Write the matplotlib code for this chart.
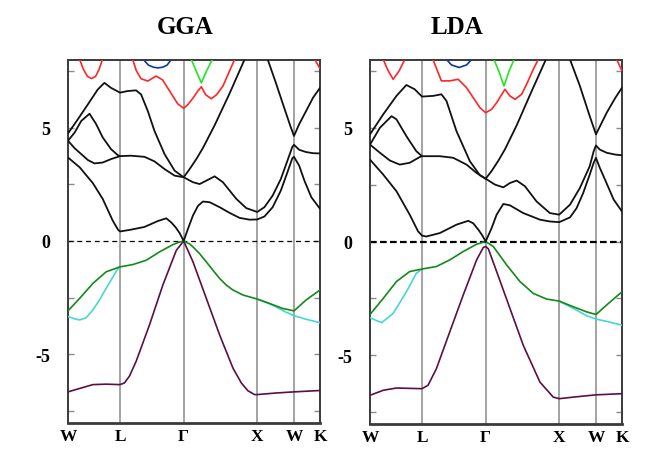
import matplotlib
matplotlib.use('Agg')
import matplotlib.pyplot as plt

# ---------------- high-symmetry path ----------------
K_TICKS = [0.0, 0.707, 1.573, 2.573, 3.073, 3.427]
K_LABELS = ['W', 'L', 'Γ', 'X', 'W', 'K']
Y_MAJOR = [-5, 0, 5]
Y_LABELS = ['-5', '0', '5']
Y_MINOR = [-7.5, -2.5, 2.5, 7.5]
TITLES = ['GGA', 'LDA']

# ---------------- GGA bands ----------------
gga_b1_k = [0, 0.158, 0.338, 0.473, 0.608, 0.68, 0.707, 0.857, 1.04, 1.222, 1.336, 1.404, 1.464, 1.518, 1.573,
            1.632, 1.70, 1.768, 1.835, 1.926, 2.062, 2.197, 2.333, 2.469, 2.573, 2.671, 2.783, 2.894, 2.984, 3.051,
            3.073, 3.144, 3.215, 3.309, 3.427]
gga_b1_e = [3.68, 3.25, 2.55, 1.85, 0.9, 0.5, 0.42, 0.5, 0.62, 0.88, 1.0, 0.82, 0.6, 0.35, 0.0,
            0.54, 1.13, 1.55, 1.74, 1.71, 1.49, 1.24, 1.02, 0.94, 0.95, 1.08, 1.49, 2.22, 3.03, 3.65,
            3.71, 3.32, 2.66, 1.93, 1.42]
gga_b2_k = [0, 0.09, 0.18, 0.27, 0.36, 0.473, 0.585, 0.707, 0.857, 1.04, 1.176, 1.313, 1.45, 1.573, 1.70, 1.79,
            1.881, 1.994, 2.107, 2.288, 2.424, 2.573, 2.671, 2.783, 2.894, 2.984, 3.051, 3.073, 3.144, 3.238,
            3.333, 3.427]
gga_b2_e = [4.42, 4.09, 3.83, 3.57, 3.42, 3.46, 3.61, 3.74, 3.76, 3.71, 3.51, 3.17, 2.88, 2.81, 2.59, 2.51,
            2.66, 2.85, 2.59, 1.86, 1.45, 1.28, 1.49, 2.0, 2.73, 3.54, 4.15, 4.24, 4.02, 3.92,
            3.87, 3.86]
gga_b3_k = [0, 0.09, 0.18, 0.293, 0.383, 0.473, 0.585, 0.675, 0.707]
gga_b3_e = [4.42, 4.78, 5.29, 5.61, 5.15, 4.56, 4.05, 3.79, 3.74]
gga_b4_k = [0, 0.135, 0.27, 0.405, 0.495, 0.585, 0.707, 0.812, 0.926, 0.994, 1.085, 1.176, 1.313, 1.45, 1.573,
            1.654, 1.745, 1.835, 1.994, 2.197, 2.401]
gga_b4_e = [4.74, 5.37, 6.02, 6.68, 6.97, 6.75, 6.54, 6.61, 6.64, 6.46, 5.73, 4.85, 3.83, 3.1, 2.81,
            3.17, 3.61, 4.1, 5.1, 6.5, 8.0]
gga_b5_k = [2.716, 2.827, 2.939, 3.028, 3.073, 3.144, 3.238, 3.333, 3.427]
gga_b5_e = [8.0, 6.97, 5.88, 5.03, 4.63, 5.15, 5.73, 6.32, 6.75]
gga_red1_k = [0.158, 0.212, 0.266, 0.32, 0.374, 0.421, 0.468]
gga_red1_e = [8.0, 7.55, 7.25, 7.16, 7.25, 7.55, 8.0]
gga_red2_k = [0.880, 0.930, 0.994, 1.085, 1.199, 1.286, 1.404, 1.491, 1.573, 1.627, 1.70, 1.763, 1.813, 1.872,
              1.949, 2.021, 2.107, 2.184, 2.265]
gga_red2_e = [8.0, 7.5, 7.15, 7.05, 7.27, 7.1, 6.5, 6.05, 5.85, 6.0, 6.3, 6.6, 6.8, 6.45,
              6.27, 6.45, 6.83, 7.4, 8.0]
gga_red3_k = [3.356, 3.427]
gga_red3_e = [8.0, 7.6]
gga_lime_k = [1.677, 1.743, 1.813, 1.885, 1.962]
gga_lime_e = [8.0, 7.5, 6.97, 7.5, 8.0]
gga_blue_k = [1.026, 1.094, 1.163, 1.222, 1.286, 1.347, 1.404]
gga_blue_e = [8.0, 7.75, 7.66, 7.63, 7.66, 7.75, 8.0]
gga_vg_k = [0, 0.158, 0.338, 0.518, 0.707, 0.88, 1.063, 1.245, 1.427, 1.495, 1.573, 1.654, 1.70, 1.79, 1.881,
            1.971, 2.062, 2.152, 2.243, 2.379, 2.573, 2.738, 2.917, 3.073, 3.238, 3.427]
gga_vg_e = [-3.08, -2.53, -1.87, -1.36, -1.14, -1.04, -0.85, -0.48, -0.16, -0.07, 0.0, -0.13, -0.26, -0.56, -0.92,
            -1.29, -1.65, -1.94, -2.16, -2.38, -2.56, -2.75, -2.97, -3.08, -2.6, -2.16]
gga_vc1_k = [0, 0.09, 0.158, 0.248, 0.338, 0.428, 0.518, 0.608, 0.662, 0.707]
gga_vc1_e = [-3.33, -3.43, -3.48, -3.38, -3.04, -2.6, -2.09, -1.6, -1.3, -1.14]
gga_vc2_k = [2.573, 2.694, 2.827, 2.961, 3.073, 3.238, 3.427]
gga_vc2_e = [-2.56, -2.7, -2.9, -3.13, -3.29, -3.45, -3.6]
gga_vp_k = [0, 0.158, 0.338, 0.518, 0.707, 0.766, 0.835, 0.926, 1.108, 1.29, 1.473, 1.573, 1.70, 1.881, 2.062,
            2.243, 2.356, 2.446, 2.537, 2.573, 2.827, 3.073, 3.427]
gga_vp_e = [-6.65, -6.5, -6.33, -6.31, -6.33, -6.26, -5.96, -5.31, -3.7, -1.94, -0.41, 0.0, -0.92, -2.53, -4.14,
            -5.6, -6.25, -6.6, -6.77, -6.77, -6.7, -6.65, -6.59]

# ---------------- LDA bands ----------------
lda_b1_k = [0, 0.18, 0.36, 0.54, 0.653, 0.707, 0.766, 0.949, 1.176, 1.336, 1.404, 1.473, 1.527, 1.573,
            1.654, 1.722, 1.813, 1.903, 2.084, 2.311, 2.446, 2.573, 2.72, 2.81, 2.899, 2.988, 3.042, 3.073,
            3.125, 3.196, 3.314, 3.427]
lda_b1_e = [3.6, 2.94, 2.21, 1.18, 0.45, 0.26, 0.22, 0.37, 0.74, 0.91, 0.8, 0.52, 0.27, 0.0,
            0.59, 1.18, 1.65, 1.59, 1.25, 0.96, 0.88, 0.85, 1.06, 1.47, 2.13, 2.94, 3.46, 3.68,
            3.24, 2.72, 1.84, 1.32]
lda_b2_k = [0, 0.135, 0.27, 0.405, 0.54, 0.675, 0.707, 0.949, 1.131, 1.313, 1.45, 1.573, 1.70, 1.813, 1.903,
            1.994, 2.107, 2.265, 2.446, 2.573, 2.72, 2.854, 2.988, 3.042, 3.073, 3.125, 3.219, 3.337, 3.427]
lda_b2_e = [4.26, 3.9, 3.56, 3.38, 3.46, 3.71, 3.75, 3.75, 3.68, 3.38, 3.01, 2.76, 2.5, 2.38, 2.57,
            2.68, 2.43, 1.76, 1.25, 1.18, 1.62, 2.35, 3.31, 3.97, 4.22, 4.04, 3.9, 3.82, 3.79]
lda_b3_k = [0, 0.135, 0.293, 0.36, 0.495, 0.63, 0.707]
lda_b3_e = [4.26, 5.0, 5.51, 5.37, 4.63, 3.97, 3.75]
lda_b4_k = [0, 0.18, 0.36, 0.495, 0.608, 0.707, 0.857, 0.971, 1.04, 1.176, 1.358, 1.495, 1.573, 1.654, 1.745,
            1.835, 1.994, 2.197, 2.392]
lda_b4_e = [4.71, 5.59, 6.4, 6.88, 6.69, 6.37, 6.4, 6.47, 6.18, 4.85, 3.53, 2.91, 2.76, 3.1, 3.55,
            4.05, 5.1, 6.6, 8.0]
lda_b5_k = [2.72, 2.854, 2.988, 3.073, 3.219, 3.337, 3.427]
lda_b5_e = [8.0, 6.84, 5.51, 4.71, 5.66, 6.32, 6.76]
lda_red1_k = [0.18, 0.248, 0.315, 0.396, 0.473]
lda_red1_e = [8.0, 7.5, 7.13, 7.5, 8.0]
lda_red2_k = [0.857, 0.917, 0.971, 1.085, 1.2, 1.313, 1.404, 1.496, 1.573, 1.654, 1.722, 1.835, 1.903, 1.971,
              2.062, 2.13, 2.221, 2.288]
lda_red2_e = [8.0, 7.5, 7.06, 7.06, 7.13, 6.76, 6.32, 5.88, 5.66, 5.81, 6.1, 6.69, 6.4, 6.25,
              6.47, 6.91, 7.57, 8.0]
lda_red3_k = [3.356, 3.427]
lda_red3_e = [8.0, 7.5]
lda_lime_k = [1.686, 1.754, 1.822, 1.89, 1.958]
lda_lime_e = [8.0, 7.47, 6.84, 7.47, 8.0]
lda_blue_k = [1.04, 1.108, 1.213, 1.313, 1.382]
lda_blue_e = [8.0, 7.76, 7.65, 7.76, 8.0]
lda_vg_k = [0, 0.18, 0.36, 0.54, 0.707, 0.903, 1.085, 1.268, 1.45, 1.573, 1.677, 1.858, 2.039, 2.22, 2.401,
            2.573, 2.765, 2.944, 3.073, 3.243, 3.427]
lda_vg_e = [-3.21, -2.5, -1.76, -1.32, -1.21, -1.1, -0.81, -0.44, -0.12, 0.0, -0.22, -1.03, -1.76, -2.28, -2.53,
            -2.62, -2.87, -3.09, -3.21, -2.72, -2.21]
lda_vc1_k = [0, 0.158, 0.315, 0.495, 0.63, 0.707]
lda_vc1_e = [-3.35, -3.57, -3.16, -2.21, -1.4, -1.21]
lda_vc2_k = [2.573, 2.765, 2.944, 3.073, 3.243, 3.427]
lda_vc2_e = [-2.62, -2.94, -3.26, -3.41, -3.53, -3.68]
lda_vp_k = [0, 0.18, 0.36, 0.707, 0.789, 0.903, 1.085, 1.268, 1.45, 1.541, 1.573, 1.609, 1.722, 1.903, 2.084,
            2.311, 2.492, 2.573, 2.765, 3.073, 3.427]
lda_vp_e = [-6.76, -6.54, -6.44, -6.47, -6.32, -5.59, -3.97, -2.35, -0.81, -0.26, -0.22, -0.32, -1.32, -2.94,
            -4.56, -6.18, -6.84, -6.91, -6.84, -6.74, -6.69]

# ---------------- styles ----------------
C_BLACK = '#111111'
C_RED = '#ff2626'
C_LIME = '#22e622'
C_BLUE = '#0b3a9e'
C_VGREEN = '#13891a'
C_CYAN = '#48d6d0'
C_PURPLE = '#5c0f42'

plt.rcParams['font.family'] = ['Liberation Serif', 'DejaVu Serif']
plt.rcParams['font.weight'] = 'bold'

fig = plt.figure(figsize=(6.48, 4.56), dpi=100)
ax1 = fig.add_axes([68 / 648, 1 - 423.5 / 456, 252 / 648, 363 / 456])
ax2 = fig.add_axes([370 / 648, 1 - 424.5 / 456, 252 / 648, 364 / 456])

panels = [
    (ax1, [(gga_vp_k, gga_vp_e, C_PURPLE), (gga_vc1_k, gga_vc1_e, C_CYAN), (gga_vc2_k, gga_vc2_e, C_CYAN),
           (gga_vg_k, gga_vg_e, C_VGREEN), (gga_b1_k, gga_b1_e, C_BLACK), (gga_b2_k, gga_b2_e, C_BLACK),
           (gga_b3_k, gga_b3_e, C_BLACK), (gga_b4_k, gga_b4_e, C_BLACK), (gga_b5_k, gga_b5_e, C_BLACK),
           (gga_red1_k, gga_red1_e, C_RED), (gga_red2_k, gga_red2_e, C_RED), (gga_red3_k, gga_red3_e, C_RED),
           (gga_lime_k, gga_lime_e, C_LIME), (gga_blue_k, gga_blue_e, C_BLUE)], 0.9, (0, (4, 3))),
    (ax2, [(lda_vp_k, lda_vp_e, C_PURPLE), (lda_vc1_k, lda_vc1_e, C_CYAN), (lda_vc2_k, lda_vc2_e, C_CYAN),
           (lda_vg_k, lda_vg_e, C_VGREEN), (lda_b1_k, lda_b1_e, C_BLACK), (lda_b2_k, lda_b2_e, C_BLACK),
           (lda_b3_k, lda_b3_e, C_BLACK), (lda_b4_k, lda_b4_e, C_BLACK), (lda_b5_k, lda_b5_e, C_BLACK),
           (lda_red1_k, lda_red1_e, C_RED), (lda_red2_k, lda_red2_e, C_RED), (lda_red3_k, lda_red3_e, C_RED),
           (lda_lime_k, lda_lime_e, C_LIME), (lda_blue_k, lda_blue_e, C_BLUE)], 1.6, (0, (3, 1.5))),
]

for ax, bands, zlw, zls in panels:
    for kx in K_TICKS[1:-1]:
        ax.axvline(kx, color='#9c9c9c', lw=1.3, zorder=1)
    ax.axhline(0, color='black', lw=zlw, ls=zls, zorder=2)
    for k, e, c in bands:
        lw = 1.3 if c == C_BLACK else 1.2
        ax.plot(k, e, color=c, lw=lw, zorder=3, solid_joinstyle='round', solid_capstyle='round')
    ax.set_xlim(K_TICKS[0], K_TICKS[-1])
    ax.set_ylim(-8, 8)
    ax.set_xticks(K_TICKS)
    ax.set_xticklabels(K_LABELS, fontsize=12.5, fontweight='bold')
    ax.set_yticks(Y_MAJOR)
    ax.set_yticklabels(Y_LABELS, fontsize=13, fontweight='bold')
    ax.set_yticks(Y_MINOR, minor=True)
    ax.tick_params(axis='x', length=0, pad=4)
    ax.tick_params(axis='y', which='both', direction='in', left=True, right=True,
                   length=4, width=1, color='#8a8a8a', pad=13)
    for sp in ax.spines.values():
        sp.set_color('#3a3a3a')
        sp.set_linewidth(1.4)
    ax.spines['bottom'].set_linewidth(2.0)

fig.text(185 / 648, 1 - 28 / 456, TITLES[0], ha='center', va='center', fontsize=18, fontweight='bold')
fig.text(457 / 648, 1 - 28 / 456, TITLES[1], ha='center', va='center', fontsize=18, fontweight='bold')

fig.savefig('out.png', dpi=100)
